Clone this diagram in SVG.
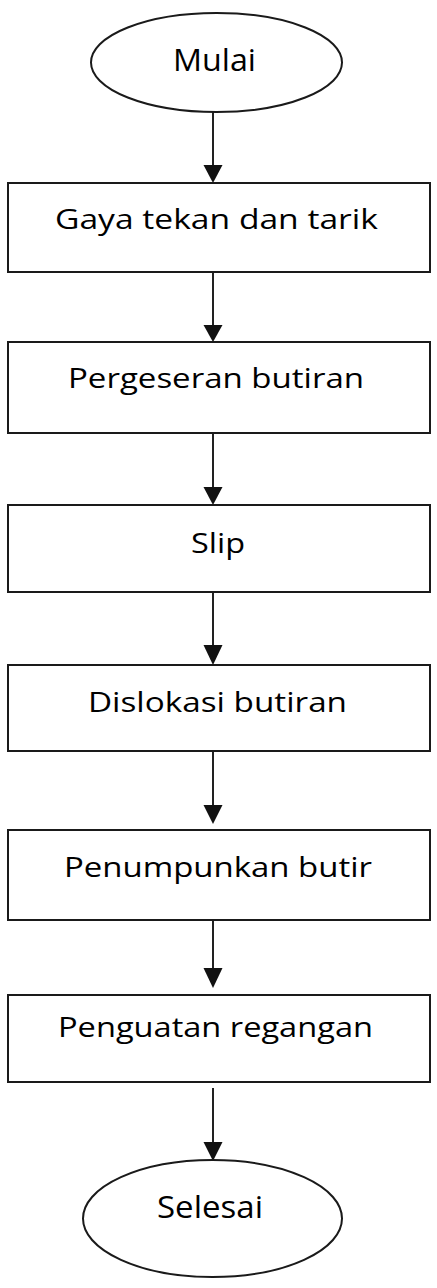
<svg xmlns="http://www.w3.org/2000/svg" width="437" height="1288" viewBox="0 0 437 1288">
<style>
.box{fill:#fff;stroke:#1a1a1a;stroke-width:2}
.lbl{font-family:"Open Sans","Liberation Sans",sans-serif;font-size:28px;fill:#000;text-anchor:middle}
.big{font-size:31px}
.con{stroke:#222;stroke-width:2;fill:none}
.head{fill:#111}
</style>
<rect width="437" height="1288" fill="#fff"/>
<g id="connectors">
<line class="con" x1="213" y1="112" x2="213" y2="166"/>
<polygon class="head" points="203.5,165 222.5,165 213,183"/>
<line class="con" x1="213" y1="272" x2="213" y2="326"/>
<polygon class="head" points="203.5,325 222.5,325 213,342"/>
<line class="con" x1="213" y1="433" x2="213" y2="488"/>
<polygon class="head" points="203.5,487 222.5,487 213,505"/>
<line class="con" x1="213" y1="592" x2="213" y2="646"/>
<polygon class="head" points="203.5,645 222.5,645 213,665"/>
<line class="con" x1="213" y1="751" x2="213" y2="806"/>
<polygon class="head" points="203.5,805 222.5,805 213,824"/>
<line class="con" x1="213" y1="915" x2="213" y2="969"/>
<polygon class="head" points="203.5,968 222.5,968 213,988"/>
<line class="con" x1="213" y1="1088" x2="213" y2="1143"/>
<polygon class="head" points="203.5,1142 222.5,1142 213,1161"/>
</g>
<g id="mulai">
<ellipse class="box" cx="216.5" cy="62.5" rx="125.5" ry="49.5"/>
<text class="lbl big" x="214.5" y="71" textLength="83" lengthAdjust="spacingAndGlyphs">Mulai</text>
</g>
<g id="gaya">
<rect class="box" x="8" y="183" width="422" height="89"/>
<text class="lbl" x="216.5" y="229" textLength="323" lengthAdjust="spacingAndGlyphs">Gaya  tekan dan tarik</text>
</g>
<g id="pergeseran">
<rect class="box" x="8" y="342" width="422" height="91"/>
<text class="lbl" x="216" y="388" textLength="296" lengthAdjust="spacingAndGlyphs">Pergeseran butiran</text>
</g>
<g id="slip">
<rect class="box" x="8" y="505" width="422" height="87"/>
<text class="lbl" x="218" y="553" textLength="54" lengthAdjust="spacingAndGlyphs">Slip</text>
</g>
<g id="dislokasi">
<rect class="box" x="8" y="665" width="422" height="86"/>
<text class="lbl" x="217.5" y="712" textLength="259" lengthAdjust="spacingAndGlyphs">Dislokasi butiran</text>
</g>
<g id="penumpunkan">
<rect class="box" x="8" y="830" width="422" height="90"/>
<text class="lbl" x="218" y="877" textLength="308" lengthAdjust="spacingAndGlyphs">Penumpunkan butir</text>
</g>
<g id="penguatan">
<rect class="box" x="8" y="995" width="422" height="87"/>
<text class="lbl" x="215.5" y="1037" textLength="315" lengthAdjust="spacingAndGlyphs">Penguatan regangan</text>
</g>
<g id="selesai">
<ellipse class="box" cx="212.5" cy="1218.5" rx="129.5" ry="58.5"/>
<text class="lbl big" x="210" y="1218" textLength="106" lengthAdjust="spacingAndGlyphs">Selesai</text>
</g>
</svg>
